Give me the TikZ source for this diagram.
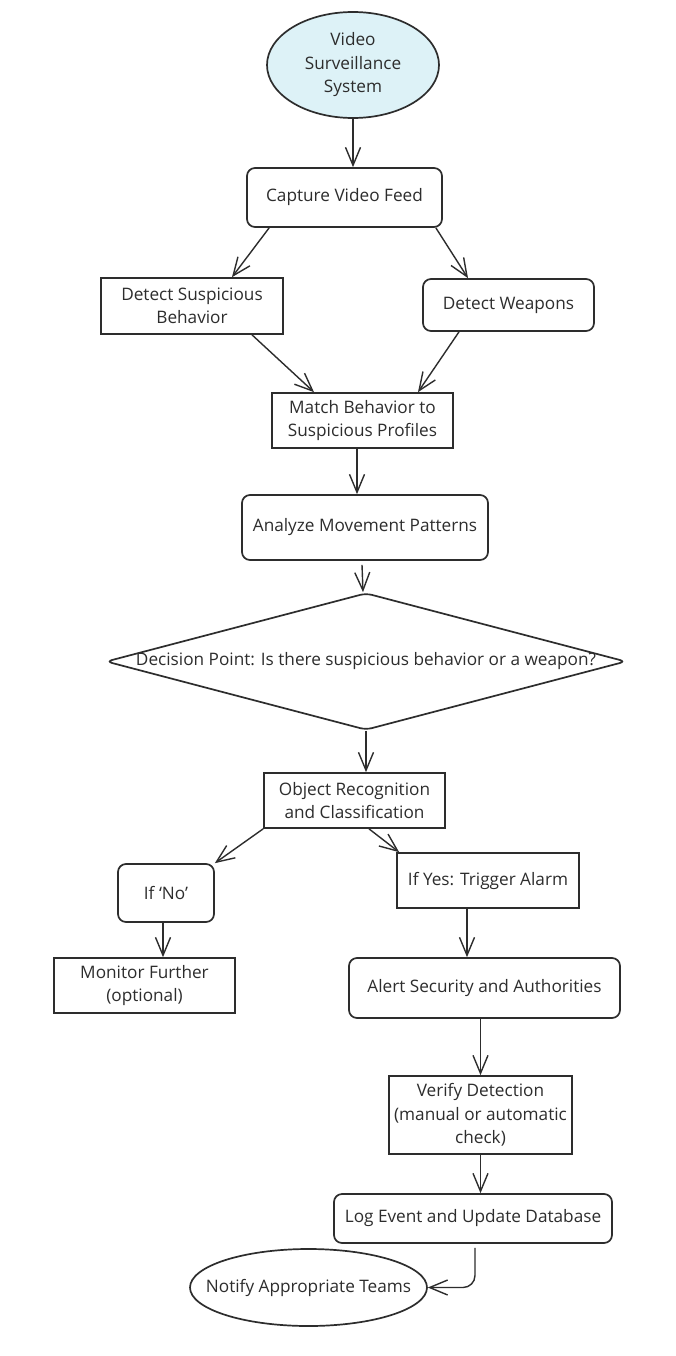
\documentclass[tikz,border=0pt]{standalone}
\usepackage{fontspec}
\setmainfont{Open Sans}
\usetikzlibrary{shapes.geometric,arrows.meta}
\definecolor{ln}{RGB}{45,45,45}
\definecolor{startfill}{RGB}{221,242,247}
\begin{document}
\begin{tikzpicture}[x=1pt,y=-1pt,
  every node/.style={font=\fontsize{17.2}{23.5}\selectfont, text=ln},
  box/.style={draw=ln, line width=1.7pt, inner sep=0pt, align=center},
  rbox/.style={box, rounded corners=8pt},
  arr/.style={draw=ln, line width=1.4pt, -{Straight Barb[length=18pt,width=15pt,line width=1.4pt]}}]
\fill[white] (0,0) rectangle (676,1356);
\useasboundingbox (0,0) rectangle (676,1356);

\node[ellipse, draw=ln, line width=1.7pt, fill=startfill, minimum width=172pt, minimum height=106pt, inner sep=0pt, align=center] (vss) at (353,65) {Video\\Surveillance\\System};
\node[rbox, minimum width=195pt, minimum height=59pt] (cap) at (344.5,197.5) {Capture Video Feed};
\node[box, minimum width=182pt, minimum height=56pt] (dsb) at (192,306) {Detect Suspicious\\Behavior};
\node[rbox, minimum width=171pt, minimum height=52pt] (dw) at (508.5,305) {Detect Weapons};
\node[box, minimum width=181pt, minimum height=55pt] (mbp) at (362.5,420.5) {Match Behavior to\\Suspicious Profiles};
\node[rbox, minimum width=246pt, minimum height=65pt] (ana) at (365,527.5) {Analyze Movement Patterns};
\node[diamond, draw=ln, line width=1.7pt, rounded corners=6pt, minimum width=520pt, minimum height=137pt, inner sep=0pt] (dec) at (366,661.5) {\makebox[0pt]{Decision Point: Is there suspicious behavior or a weapon?}};
\node[box, minimum width=181pt, minimum height=55pt] (obj) at (354.5,800.5) {Object Recognition\\and Classification};
\node[rbox, minimum width=96pt, minimum height=58pt] (ifno) at (166,893) {If ‘No’};
\node[box, minimum width=182pt, minimum height=55pt] (ifyes) at (488,880.5) {If Yes: Trigger Alarm};
\node[box, minimum width=181pt, minimum height=55pt] (mon) at (144.5,985.5) {Monitor Further\\(optional)};
\node[rbox, minimum width=271pt, minimum height=60pt] (alert) at (484.5,988) {Alert Security and Authorities};
\node[box, minimum width=183pt, minimum height=78pt] (ver) at (480.5,1115) {Verify Detection\\(manual or automatic\\check)};
\node[rbox, minimum width=278pt, minimum height=49pt] (log) at (473,1218.5) {Log Event and Update Database};
\node[ellipse, draw=ln, line width=1.7pt, minimum width=237pt, minimum height=77pt, inner sep=0pt] (note) at (308.5,1287.5) {\makebox[0pt]{Notify Appropriate Teams}};

\draw[arr] (vss.south) -- (vss.south |- cap.north);
\draw[arr] ([xshift=23pt]cap.south west) -- ([xshift=40pt]dsb.north);
\draw[arr] ([xshift=-7pt]cap.south east) -- ([xshift=-40.5pt]dw.north);
\draw[arr] ([xshift=60pt]dsb.south) -- ([xshift=-48.5pt]mbp.north);
\draw[arr] ([xshift=-49.5pt]dw.south) -- ([xshift=55.5pt]mbp.north);
\draw[arr] ([xshift=-5.5pt]mbp.south) -- ([xshift=-5.5pt]mbp.south |- ana.north);
\draw[arr] ([xshift=-3pt,yshift=-4pt]ana.south) -- ([xshift=-3pt]dec.north);
\draw[arr] (dec.south) -- (dec.south |- obj.north);
\draw[arr] (obj.south west) -- (ifno.north east);
\draw[arr] ([xshift=14.5pt]obj.south) -- ([xshift=3pt]ifyes.north west);
\draw[arr] ([xshift=-3pt]ifno.south) -- ([xshift=-3pt]ifno.south |- mon.north);
\draw[arr] ([xshift=-21pt]ifyes.south) -- ([xshift=-21pt]ifyes.south |- alert.north);
\draw[arr] (ver.north |- alert.south) -- (ver.north);
\draw[arr] (ver.south) -- (ver.south |- log.north);
\draw[arr, rounded corners=12pt] ([xshift=2pt,yshift=-4pt]log.south) |- (note.east);
\end{tikzpicture}
\end{document}
